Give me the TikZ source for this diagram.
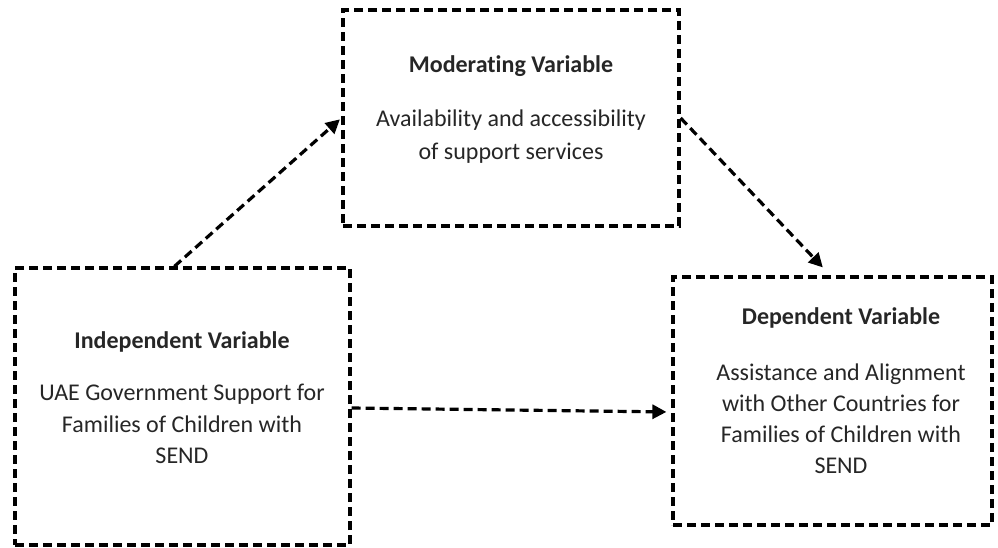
\documentclass[tikz,border=0pt]{standalone}
\usepackage{fontspec}
\setmainfont{Carlito}[Ligatures=NoCommon]
\usetikzlibrary{arrows.meta}
\begin{document}
\begin{tikzpicture}[x=1pt,y=-1pt,
  box/.style={draw=black, line width=3.2pt, dash pattern=on 9pt off 5pt, rectangle, inner sep=0pt},
  title/.style={font=\fontsize{24}{32}\selectfont\bfseries, text=black!85},
  body/.style={font=\fontsize{24}{32}\selectfont, align=center, text=black!85},
  arr/.style={line width=3.2pt, dash pattern=on 9pt off 5pt, -{Triangle[length=14pt,width=14pt]}}]
\useasboundingbox (0,0) rectangle (998,547);
% boxes
\node[box, minimum width=336pt, minimum height=216pt] (mod) at (511,118) {};
\node[box, minimum width=335pt, minimum height=277pt] (ind) at (182.5,406.5) {};
\node[box, minimum width=319pt, minimum height=248pt] (dep) at (832.5,401) {};
% texts
\node[title] (modt) at (511,66.5) {Moderating Variable};
\node[body, anchor=north, font=\fontsize{24}{33}\selectfont] (modb) at (511,106) {Availability and accessibility\\of support services};
\node[title] (indt) at (182,342) {Independent Variable};
\node[body, anchor=north, font=\fontsize{24}{31.5}\selectfont] (indb) at (182,381) {UAE Government Support for\\Families of Children with\\SEND};
\node[title] (dept) at (841,318) {Dependent Variable};
\node[body, anchor=north, font=\fontsize{24}{31}\selectfont] (depb) at (841,360) {Assistance and Alignment\\with Other Countries for\\Families of Children with\\SEND};
% connectors
\draw[arr, shorten >=2pt] ([xshift=161pt]ind.north west) -- (mod.west);
\draw[arr, shorten >=11pt] (mod.east) -- ([xshift=159pt]dep.north west);
\draw[arr, shorten >=5pt] ([yshift=-1.5pt]ind.east) -- ([yshift=-11pt]dep.west);
\end{tikzpicture}
\end{document}
